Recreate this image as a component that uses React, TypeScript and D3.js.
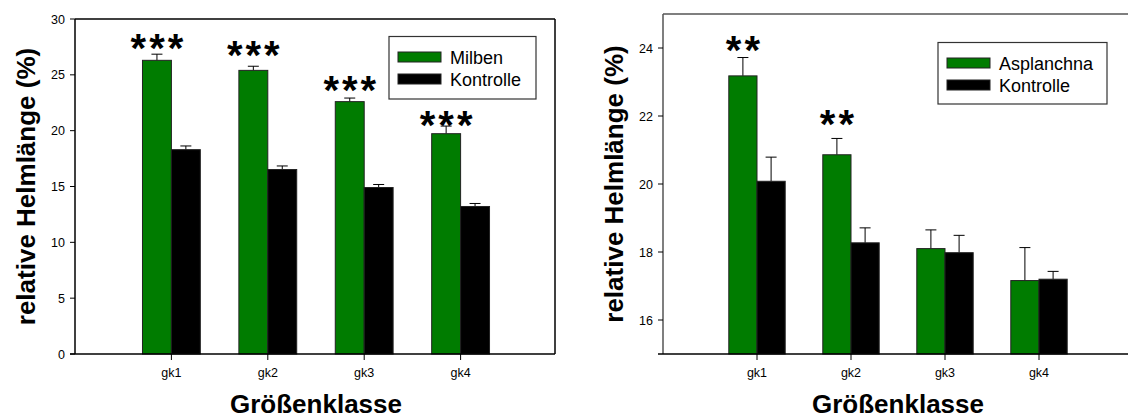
import React from "react";
import * as d3 from "d3";

const categories = ["gk1", "gk2", "gk3", "gk4"];

const leftSeriesNames = ["Milben", "Kontrolle"];
const leftTreat = [26.3, 25.4, 22.6, 19.73];
const leftTreatErr = [0.55, 0.37, 0.32, 0.68];
const leftCtrl = [18.3, 16.52, 14.91, 13.21];
const leftCtrlErr = [0.33, 0.32, 0.27, 0.27];
const leftStars = ["***", "***", "***", "***"];
const leftStarY = [27.43, 26.78, 23.64, 20.5];
const leftTicks = [0, 5, 10, 15, 20, 25, 30];

const rightSeriesNames = ["Asplanchna", "Kontrolle"];
const rightTreat = [23.18, 20.86, 18.1, 17.16];
const rightTreatErr = [0.54, 0.48, 0.55, 0.97];
const rightCtrl = [20.08, 18.27, 17.98, 17.2];
const rightCtrlErr = [0.71, 0.44, 0.51, 0.23];
const rightStars = ["**", "**", "", ""];
const rightStarY = [23.93, 21.77, 0, 0];
const rightTicks = [16, 18, 20, 22, 24];

const GREEN = "#007c00";
const FONT = "'Liberation Sans', Arial, Helvetica, sans-serif";

type PanelProps = {
  x0: number;
  x1: number;
  y0: number;
  y1: number;
  yDomain: [number, number];
  ticks: number[];
  names: string[];
  treat: number[];
  treatErr: number[];
  ctrl: number[];
  ctrlErr: number[];
  stars: string[];
  starY: number[];
  legend: { x: number; y: number; w: number; h: number };
  frameColor: string;
  rightBorder: boolean;
  clipRight: number;
};

function Panel(p: PanelProps) {
  const x = d3.scaleLinear().domain([0, 5]).range([p.x0, p.x1]);
  const y = d3.scaleLinear().domain(p.yDomain).range([p.y1, p.y0]);
  const bw = (x(1) - x(0)) * 0.3;
  const capW = 11;
  const bars: JSX.Element[] = [];
  categories.forEach((c, i) => {
    const cx = x(i + 1);
    const groups = [
      { v: p.treat[i], e: p.treatErr[i], fill: GREEN, xl: cx - bw },
      { v: p.ctrl[i], e: p.ctrlErr[i], fill: "#000", xl: cx },
    ];
    groups.forEach((g, j) => {
      const top = y(g.v);
      const ex = g.xl + bw / 2;
      const et = y(g.v + g.e);
      bars.push(
        <g key={`b${i}-${j}`}>
          <line x1={ex} x2={ex} y1={top} y2={et} stroke="#000" strokeWidth={1} />
          <line x1={ex - capW / 2} x2={ex + capW / 2} y1={et} y2={et} stroke="#000" strokeWidth={1} />
          <rect x={g.xl} y={top} width={bw} height={y(p.yDomain[0]) - top} fill={g.fill} stroke="#222" strokeWidth={1} />
        </g>
      );
    });
    if (p.stars[i]) {
      bars.push(
        <text
          key={`s${i}`}
          x={cx - bw / 2 + 1.5}
          y={y(p.starY[i]) + 14}
          textAnchor="middle"
          fontFamily={FONT}
          fontWeight="bold"
          fontSize={40}
          letterSpacing={3}
          fill="#000"
        >
          {p.stars[i]}
        </text>
      );
    }
  });
  const L = p.legend;
  return (
    <g>
      {bars}
      <line x1={p.x0} x2={p.x0} y1={p.y0} y2={p.y1} stroke={p.frameColor} strokeWidth={1.5} />
      <line x1={p.x0} x2={p.clipRight} y1={p.y0} y2={p.y0} stroke={p.frameColor} strokeWidth={1.5} />
      <line x1={p.x0 - 5} x2={p.clipRight} y1={p.y1} y2={p.y1} stroke="#000" strokeWidth={1.5} />
      {p.rightBorder && <line x1={p.clipRight} x2={p.clipRight} y1={p.y0} y2={p.y1} stroke="#000" strokeWidth={1.5} />}
      {p.ticks.map((t) => (
        <g key={`yt${t}`}>
          <line x1={p.x0 - 5} x2={p.x0} y1={y(t)} y2={y(t)} stroke="#000" strokeWidth={1} />
          <text x={p.x0 - 10} y={y(t) + 4.5} textAnchor="end" fontFamily={FONT} fontSize={12.5} fill="#000">
            {t}
          </text>
        </g>
      ))}
      {categories.map((c, i) => (
        <g key={`xt${c}`}>
          <line x1={x(i + 1)} x2={x(i + 1)} y1={p.y1} y2={p.y1 + 6} stroke="#000" strokeWidth={1} />
          <text x={x(i + 1)} y={p.y1 + 23} textAnchor="middle" fontFamily={FONT} fontSize={12.5} fill="#000">
            {c}
          </text>
        </g>
      ))}
      <text
        transform={`translate(${p.x0 - 40},${(p.y0 + p.y1) / 2}) rotate(-90)`}
        textAnchor="middle"
        fontFamily={FONT}
        fontWeight="bold"
        fontSize={26}
        fill="#000"
      >
        relative Helmlänge (%)
      </text>
      <text x={(p.x0 + p.x1) / 2} y={413} textAnchor="middle" fontFamily={FONT} fontWeight="bold" fontSize={26} fill="#000">
        Größenklasse
      </text>
      <rect x={L.x} y={L.y} width={L.w} height={L.h} fill="#fff" stroke="#333" strokeWidth={1.2} />
      {p.names.map((n, k) => (
        <g key={`lg${n}`}>
          <rect x={L.x + 9} y={L.y + 15.5 + k * 22} width={43} height={10} fill={k === 0 ? GREEN : "#000"} stroke="#222" strokeWidth={1} />
          <text x={L.x + 61} y={L.y + 27 + k * 22} fontFamily={FONT} fontSize={18} fill="#000">
            {n}
          </text>
        </g>
      ))}
    </g>
  );
}

export default function App() {
  return (
    <svg width={1128} height={419} style={{ position: "fixed", left: 0, top: 0, background: "#fff" }}>
      <rect width={1128} height={419} fill="#fff" />
      <Panel
        x0={75}
        x1={557}
        y0={19}
        y1={354}
        yDomain={[0, 30]}
        ticks={leftTicks}
        names={leftSeriesNames}
        treat={leftTreat}
        treatErr={leftTreatErr}
        ctrl={leftCtrl}
        ctrlErr={leftCtrlErr}
        stars={leftStars}
        starY={leftStarY}
        legend={{ x: 389, y: 36.5, w: 147, h: 62.5 }}
        frameColor="#000"
        rightBorder={true}
        clipRight={555}
      />
      <Panel
        x0={663}
        x1={1133}
        y0={14}
        y1={354}
        yDomain={[15, 25]}
        ticks={rightTicks}
        names={rightSeriesNames}
        treat={rightTreat}
        treatErr={rightTreatErr}
        ctrl={rightCtrl}
        ctrlErr={rightCtrlErr}
        stars={rightStars}
        starY={rightStarY}
        legend={{ x: 938, y: 42.5, w: 169, h: 61.5 }}
        frameColor="#555"
        rightBorder={false}
        clipRight={1128}
      />
    </svg>
  );
}
